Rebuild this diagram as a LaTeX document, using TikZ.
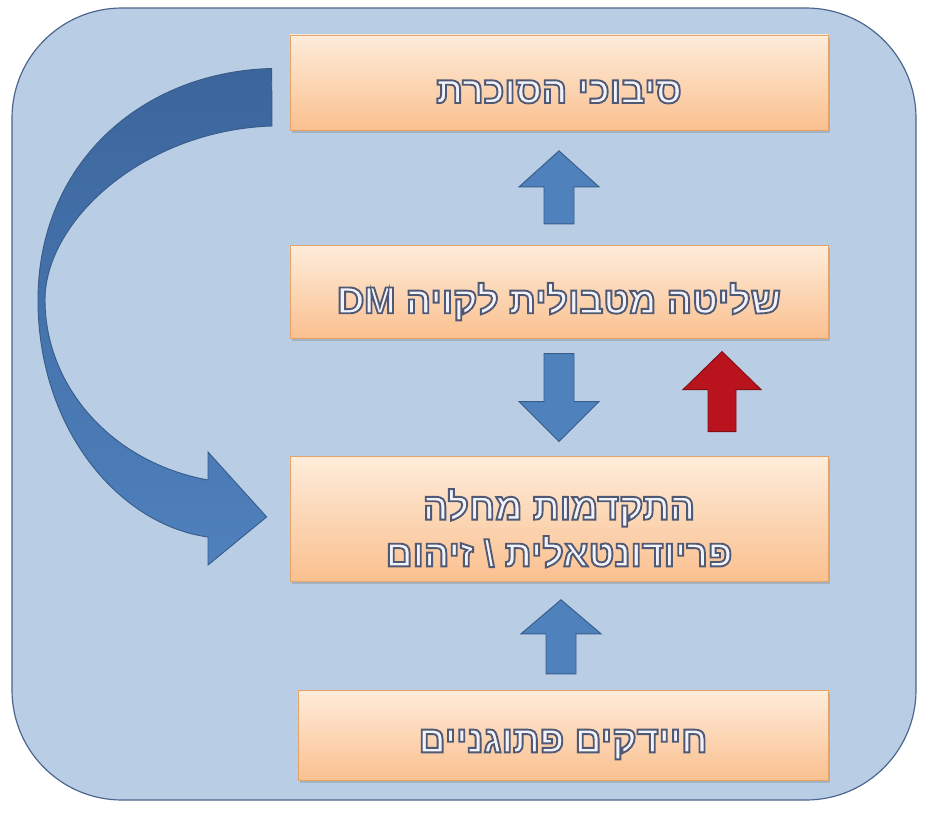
\documentclass[tikz,border=0pt]{standalone}
\usepackage{fontspec}
\usepackage{tikz}
\usetikzlibrary{positioning,calc,shadows}
\TeXXeTstate=1
\newfontfamily\hebfont[Script=Hebrew,FakeBold=5]{Liberation Sans Bold}
\definecolor{panelfill}{RGB}{185,205,229}
\definecolor{paneledge}{RGB}{75,100,140}
\definecolor{boxtop}{RGB}{254,236,218}
\definecolor{boxbot}{RGB}{250,192,143}
\definecolor{boxedge}{RGB}{228,163,105}
\definecolor{arrblue}{RGB}{79,129,189}
\definecolor{arrbluedark}{RGB}{56,93,138}
\definecolor{arrcurvetop}{RGB}{60,101,156}
\definecolor{arrred}{RGB}{185,20,30}
\definecolor{arrreddark}{RGB}{130,15,20}
\definecolor{txtfill}{RGB}{242,242,250}
% light letters with a dark outline
\newcommand{\heb}[1]{\raisebox{-8pt}[\height][\depth]{\special{pdf:code 0.31 0.35 0.45 RG}\beginR #1\endR}}

\begin{document}
\begin{tikzpicture}[
    x=0.03cm, y=-0.03cm,
    panel/.style={draw=paneledge, line width=1pt, fill=panelfill, rounded corners=3.3cm},
    box/.style={rectangle, draw=boxedge, line width=0.6pt, top color=boxtop, bottom color=boxbot, minimum width=16.14cm, inner sep=0pt, align=center, text=txtfill, font=\hebfont\bfseries\fontsize{32}{40}\selectfont, drop shadow={shadow xshift=0.06cm, shadow yshift=-0.08cm, opacity=0.35}},
    blockarrow/.style={draw=arrbluedark, line width=0.8pt, fill=arrblue},
    redarrow/.style={draw=arrreddark, line width=0.8pt, fill=arrred},
    loopstyle/.style={draw=arrbluedark, line width=0.8pt, top color=arrcurvetop, bottom color=arrblue},
]
\useasboundingbox (0,0) rectangle (930,812);

% Background panel
\draw[panel] (12,8) rectangle (916,800);

% Boxes
\node[box, minimum height=2.85cm] (compl) at (559,82.5) {\heb{סיבוכי הסוכרת}};
\node[box, minimum height=2.79cm, below=3.45cm of compl] (ctrl) {\heb{שליטה מטבולית לקויה \beginL DM\endL}};
\node[box, minimum height=3.75cm, below=3.51cm of ctrl] (prog) {\heb{התקדמות מחלה}\\\heb{פריודונטאלית \textbackslash{} זיהום}};
\node[box, minimum height=2.7cm, minimum width=15.9cm, below=3.24cm of prog, xshift=0.12cm] (pathog) {\heb{חיידקים פתוגניים}};

% Block arrows
\coordinate (a1) at ($(compl.south)!0.5!(ctrl.north)$);
\coordinate (a2) at ($(ctrl.south)!0.5!(prog.north)$);
\coordinate (a3) at ($(a2)+(163,0)$);
\coordinate (a4) at ($(prog.south)!0.5!(pathog.north)$);

\draw[blockarrow, shift={(a1)}] (-15,36) -- (-15,-1) -- (-40,-1) -- (0,-37) -- (40,-1) -- (15,-1) -- (15,36) -- cycle;
\draw[blockarrow, shift={(a2)}] (-15,-44) -- (-15,4) -- (-40,4) -- (0,44) -- (40,4) -- (15,4) -- (15,-44) -- cycle;
\draw[redarrow, shift={(a3)}] (-14,34) -- (-14,-8) -- (-39,-8) -- (0,-46) -- (39,-8) -- (14,-8) -- (14,34) -- cycle;
\draw[blockarrow, shift={(a4)}] (-15,38) -- (-15,-2) -- (-40,-2) -- (0,-36) -- (40,-2) -- (15,-2) -- (15,38) -- cycle;

% Curved feedback arrow
\coordinate (loopstart) at ($(compl.west)+(-18,-14)$);
\coordinate (looptip) at ($(prog.west)+(-23,-2)$);
\draw[loopstyle] (loopstart) .. controls (140,72) and (38,165) .. (38,300)
    .. controls (38,430) and (120,525) .. (208,537) -- (208,565) -- (looptip)
    -- (208,452) -- (208,480) .. controls (110,462) and (45,385) .. (45,300)
    .. controls (45,220) and (145,130) .. (272,126) -- cycle;

\end{tikzpicture}
\end{document}
